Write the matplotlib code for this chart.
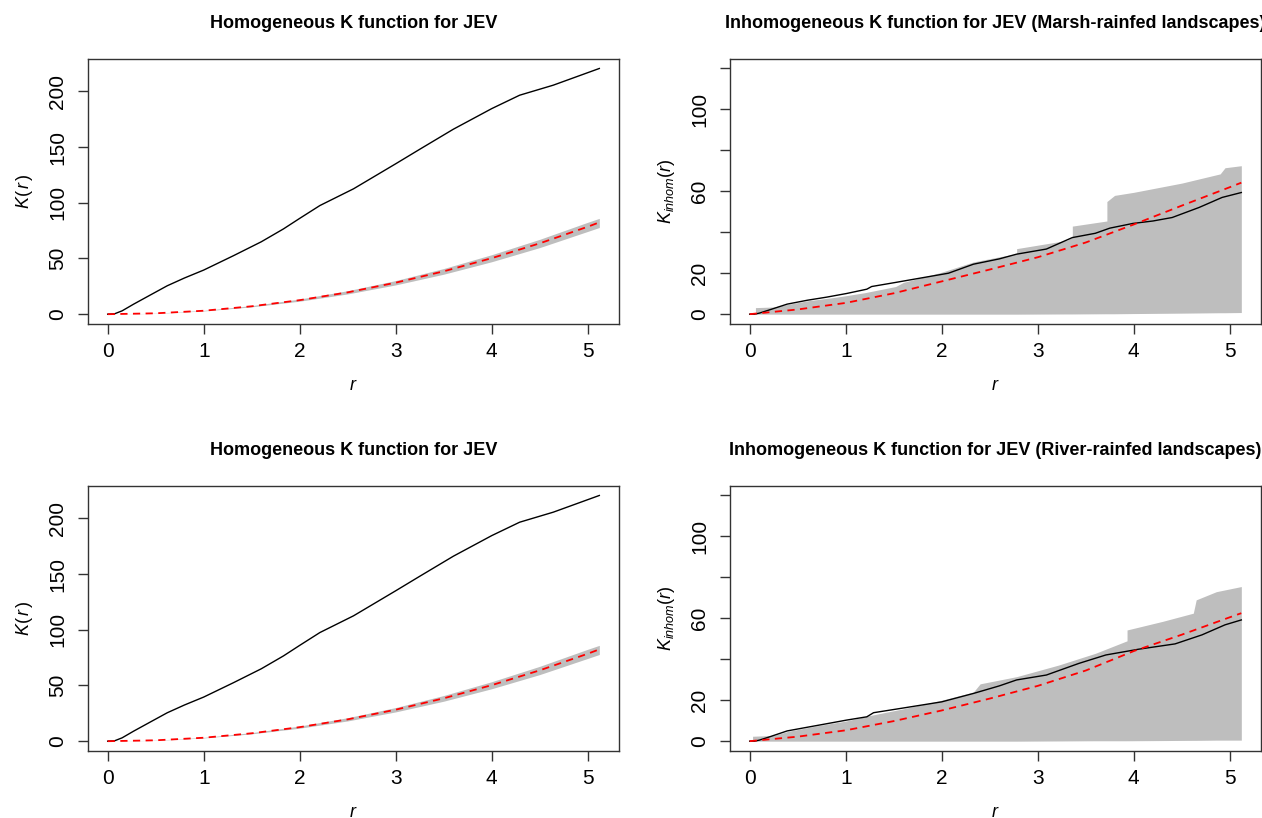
import matplotlib
matplotlib.use("Agg")
import matplotlib.pyplot as plt

plt.rcParams['font.family'] = ['Liberation Sans', 'DejaVu Sans']
plt.rcParams['mathtext.fontset'] = 'custom'
plt.rcParams['mathtext.rm'] = 'Liberation Sans'
plt.rcParams['mathtext.it'] = 'Liberation Sans:italic'

# homogeneous K (same curves in both left panels)
hom_r_obs = [0, 0.07, 0.15, 0.27, 0.45, 0.62, 0.8, 1.0, 1.31, 1.6, 1.83, 2.0, 2.21,
             2.56, 3.0, 3.25, 3.6, 4.0, 4.29, 4.64, 5.12]
hom_obs = [0, 0.3, 3, 9, 17.5, 25.5, 32.5, 39.6, 52.5, 65, 76.5, 86, 97.5,
           112.5, 135.0, 148, 166, 184.5, 196.5, 205.5, 220.5]
hom_r_theo = [0, 0.5, 1, 1.5, 2, 2.5, 3, 3.5, 4, 4.5, 5, 5.12]
hom_theo = [0, 0.8, 3.1, 7.1, 12.6, 19.6, 28.3, 38.5, 50.3, 63.6, 78.5, 82.4]
hom_hi = [0, 0.9, 3.4, 7.7, 13.6, 21.1, 30.2, 41.0, 53.4, 67.2, 82.5, 86.0]
hom_lo = [0, 0.7, 2.9, 6.6, 11.7, 18.2, 26.3, 35.9, 47.1, 59.8, 74.3, 77.8]

# inhomogeneous K, marsh-rainfed
marsh_r_obs = [0, 0.05, 0.1, 0.2, 0.39, 0.6, 0.8, 1.01, 1.22, 1.27, 1.52, 1.8, 2.07,
               2.33, 2.6, 2.78, 3.09, 3.36, 3.6, 3.75, 3.99, 4.2, 4.4, 4.68, 4.92, 5.12]
marsh_obs = [0, 0, 0.5, 2, 4.9, 6.8, 8.3, 10.1, 12.2, 13.5, 15.5, 17.8, 20.0,
             24.4, 27, 29.3, 31.8, 37.4, 39.5, 42.0, 44.3, 45.5, 47.2, 52.1, 57.0, 59.4]
marsh_r_theo = [0, 0.5, 1, 1.5, 2, 2.5, 3, 3.5, 4, 4.5, 5, 5.12]
marsh_theo = [0, 2.3, 5.5, 10.2, 16.0, 21.8, 27.8, 35.0, 43.8, 53.0, 62.0, 64.2]
marsh_r_env = [0, 0.06, 0.06, 0.25, 0.4, 0.6, 0.87, 1.0, 1.2, 1.52, 1.6, 2.0, 2.33,
               2.6, 2.78, 2.78, 3.3, 3.36, 3.36, 3.72, 3.72, 3.8, 4.0, 4.5, 4.9,
               4.95, 5.12]
marsh_hi = [0, 0, 3.2, 3.5, 4.8, 6.5, 8.1, 9.0, 10.5, 13.5, 15.5, 20.5, 25.5,
            28.0, 29.5, 32.0, 36.0, 37.5, 43.0, 45.5, 55.0, 58.0, 59.5, 64.0, 68.5,
            71.5, 72.5]
marsh_lo = [0, 0, 0, 0, 0, 0, 0, 0, 0, 0, 0, 0, 0,
            0, 0, 0, 0.1, 0.1, 0.1, 0.2, 0.2, 0.2, 0.3, 0.5, 0.7, 0.7, 0.8]

# inhomogeneous K, river-rainfed
river_r_obs = [0, 0.05, 0.1, 0.2, 0.39, 0.6, 0.8, 1.01, 1.22, 1.29, 1.6, 2.0, 2.33,
               2.6, 2.78, 3.09, 3.43, 3.71, 4.05, 4.43, 4.71, 4.95, 5.12]
river_obs = [0, 0, 0.5, 2, 5.0, 6.8, 8.5, 10.3, 11.9, 13.9, 16.2, 19.2, 23.3,
             27.0, 29.9, 32.3, 38.0, 42.1, 44.9, 47.5, 51.9, 56.8, 59.2]
river_r_theo = [0, 0.5, 1, 1.5, 2, 2.5, 3, 3.5, 4, 4.5, 5, 5.12]
river_theo = [0, 2.2, 5.3, 9.8, 15.0, 20.8, 27.0, 34.5, 44.0, 52.0, 60.5, 62.5]
river_r_env = [0, 0.03, 0.03, 0.25, 0.4, 0.7, 1.0, 1.25, 1.6, 2.0, 2.33, 2.4, 2.78,
               3.22, 3.6, 3.93, 3.93, 4.3, 4.62, 4.65, 4.86, 5.12]
river_hi = [0, 0, 2.4, 2.8, 4.8, 7.5, 9.8, 12.5, 15.8, 20.0, 24.0, 28.0, 31.5,
            37.2, 42.9, 49.0, 54.3, 58.5, 62.5, 69.0, 73.0, 75.5]
river_lo = [0, 0, 0, 0, 0, 0, 0, 0, 0, 0, 0, 0, 0,
            0.1, 0.2, 0.2, 0.2, 0.3, 0.4, 0.4, 0.5, 0.5]

titles = ["Homogeneous K function for JEV",
          "Inhomogeneous K function for JEV (Marsh-rainfed landscapes)",
          "Homogeneous K function for JEV",
          "Inhomogeneous K function for JEV (River-rainfed landscapes)"]

fig = plt.figure(figsize=(12.62, 8.18), dpi=100)
W, H = 1262, 818
boxes = [(88, 59), (730, 59), (88, 486), (730, 486)]
axes = []
for (x0, y0) in boxes:
    ax = fig.add_axes([x0 / W, 1 - (y0 + 265) / H, 531 / W, 265 / H])
    axes.append(ax)

grey = '#bebebe'


def style(ax, title, ylab, yticks, ylabels, ylim, ylab_x):
    ax.set_xlim(-0.205, 5.325)
    ax.set_ylim(*ylim)
    ax.set_xticks([0, 1, 2, 3, 4, 5])
    ax.set_yticks(yticks)
    ax.set_yticklabels(ylabels)
    for s in ax.spines.values():
        s.set_color('#333333')
        s.set_linewidth(1)
    ax.tick_params(length=7, width=1, color='#333333', labelsize=15)
    ax.tick_params(axis='x', pad=6)
    ax.tick_params(axis='y', pad=8, labelrotation=90)
    for t in ax.get_yticklabels():
        t.set_va('center')
    ax.set_title(title, fontsize=13, fontweight='bold', pad=22)
    ax.set_xlabel('$r$', fontsize=13)
    ax.xaxis.set_label_coords(0.5, -0.2)
    ax.set_ylabel(ylab, fontsize=13)
    ax.yaxis.set_label_coords(ylab_x, 0.5)


# homogeneous panels
for i in [0, 2]:
    ax = axes[i]
    ax.fill_between(hom_r_theo, hom_lo, hom_hi, color=grey, lw=0)
    ax.plot(hom_r_obs, hom_obs, color='black', lw=1)
    ax.plot(hom_r_theo, hom_theo, color='red', lw=1.3, dashes=(4, 3))
    style(ax, titles[i], '$K(\\,r\\,)$', [0, 50, 100, 150, 200],
          ['0', '50', '100', '150', '200'], (-8.8, 229), -0.1)

inh = [(1, marsh_r_env, marsh_lo, marsh_hi, marsh_r_obs, marsh_obs, marsh_r_theo, marsh_theo),
       (3, river_r_env, river_lo, river_hi, river_r_obs, river_obs, river_r_theo, river_theo)]
for i, re, lo, hi, ro, ob, rt, th in inh:
    ax = axes[i]
    ax.fill_between(re, lo, hi, color=grey, lw=0)
    ax.plot(ro, ob, color='black', lw=1)
    ax.plot(rt, th, color='red', lw=1.3, dashes=(4, 3))
    style(ax, titles[i], '$K_{inhom}(r)$', [0, 20, 40, 60, 80, 100, 120],
          ['0', '20', '', '60', '', '100', ''], (-4.8, 124.6), -0.1)

fig.savefig('out.png', dpi=100)
